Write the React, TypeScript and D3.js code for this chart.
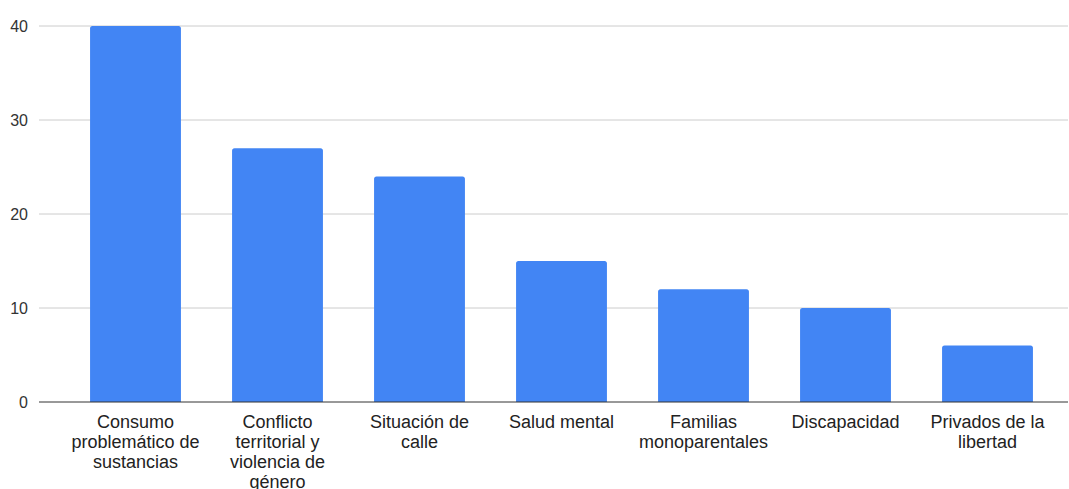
import React from "react";
import * as d3 from "d3";

const categories: string[][] = [
  ["Consumo", "problemático de", "sustancias"],
  ["Conflicto", "territorial y", "violencia de", "género"],
  ["Situación de", "calle"],
  ["Salud mental"],
  ["Familias", "monoparentales"],
  ["Discapacidad"],
  ["Privados de la", "libertad"],
];
const values: number[] = [40, 27, 24, 15, 12, 10, 6];
const yTicks: number[] = [0, 10, 20, 30, 40];

const W = 1069;
const H = 489;
const FONT = "'Liberation Sans', Arial, sans-serif";

export default function App() {
  const keys = categories.map((c) => c.join(" "));
  const x = d3
    .scaleBand<string>()
    .domain(keys)
    .range([64.5, 1058.5])
    .paddingInner(0.36)
    .paddingOuter(0.18);
  const y = d3.scaleLinear().domain([0, 40]).range([402, 26]);
  const r = 2.5;

  const barPath = (x0: number, w: number, top: number, bottom: number) => {
    const p = d3.path();
    p.moveTo(x0, bottom);
    p.lineTo(x0, top + r);
    p.quadraticCurveTo(x0, top, x0 + r, top);
    p.lineTo(x0 + w - r, top);
    p.quadraticCurveTo(x0 + w, top, x0 + w, top + r);
    p.lineTo(x0 + w, bottom);
    p.closePath();
    return p.toString();
  };

  return (
    <svg
      width={W}
      height={H}
      style={{ position: "fixed", left: 0, top: 0, display: "block", background: "#fff" }}
      fontFamily={FONT}
    >
      {yTicks.map((t) => (
        <g key={t}>
          {t !== 0 && (
            <line x1={39} x2={1068} y1={y(t)} y2={y(t)} stroke="#cccccc" strokeWidth={1} />
          )}
          <text
            x={28}
            y={y(t)}
            dy="0.35em"
            textAnchor="end"
            fontSize={16}
            fill="#333333"
          >
            {t}
          </text>
        </g>
      ))}
      {values.map((v, i) => {
        const k = keys[i];
        return (
          <path
            key={k}
            d={barPath(x(k)!, x.bandwidth(), y(v), y(0))}
            fill="#4285f4"
          />
        );
      })}
      <line x1={39} x2={1068} y1={y(0)} y2={y(0)} stroke="#333333" strokeWidth={1} />
      {categories.map((lines, i) => {
        const k = keys[i];
        const cx = x(k)! + x.bandwidth() / 2;
        return (
          <text key={k} textAnchor="middle" fontSize={18} fill="#222222">
            {lines.map((ln, j) => (
              <tspan key={j} x={cx} y={428 + j * 20}>
                {ln}
              </tspan>
            ))}
          </text>
        );
      })}
    </svg>
  );
}
